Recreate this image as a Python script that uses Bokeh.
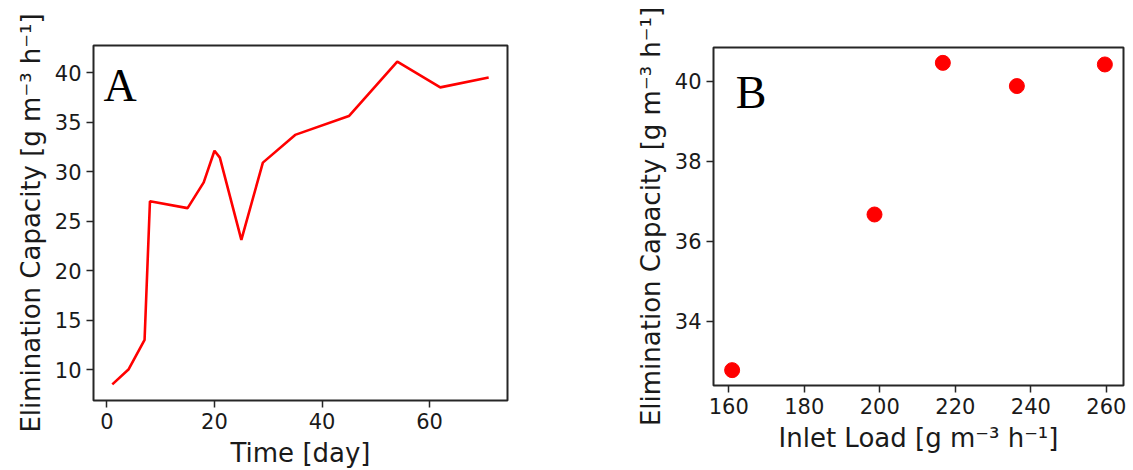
from bokeh.plotting import figure
from bokeh.layouts import row, column
from bokeh.models import Range1d, FixedTicker, Label
from bokeh.embed import file_html
from bokeh.resources import INLINE

# ---- data ----
days = [1, 4, 7, 8, 15, 18, 20, 21, 25, 29, 35, 45, 54, 62, 71]
ec_time = [8.5, 10.0, 13.0, 27.0, 26.3, 28.9, 32.1, 31.4, 23.1, 30.9, 33.7, 35.6, 41.1, 38.5, 39.5]

inlet_load = [160.9, 198.6, 216.7, 236.3, 259.6]
ec_load = [32.78, 36.67, 40.46, 39.88, 40.42]

x_ticks_a = [0, 20, 40, 60]
y_ticks_a = [10, 15, 20, 25, 30, 35, 40]
x_ticks_b = [160, 180, 200, 220, 240, 260]
y_ticks_b = [34, 36, 38, 40]

y_label = "Elimination Capacity [g m\u207b\u00b3 h\u207b\u00b9]"
x_label_a = "Time [day]"
x_label_b = "Inlet Load [g m\u207b\u00b3 h\u207b\u00b9]"
panel_a = "A"
panel_b = "B"

SPINE = "#262626"
TEXT = "#1a1a1a"


def padded(vals, frac=0.05):
    lo, hi = min(vals), max(vals)
    d = (hi - lo) * frac
    return Range1d(lo - d, hi + d)


def style(p, xt, yt, xlab, ylab):
    p.grid.visible = False
    p.outline_line_color = SPINE
    p.outline_line_width = 2
    p.outline_line_alpha = 1
    p.background_fill_color = "white"
    p.border_fill_color = "white"
    p.xaxis.ticker = FixedTicker(ticks=xt)
    p.yaxis.ticker = FixedTicker(ticks=yt)
    p.xaxis.axis_label = xlab
    p.yaxis.axis_label = ylab
    for ax in p.xaxis + p.yaxis:
        ax.axis_line_color = None
        ax.major_tick_out = 7
        ax.major_tick_in = 0
        ax.minor_tick_out = 0
        ax.minor_tick_in = 0
        ax.major_tick_line_color = SPINE
        ax.major_tick_line_width = 1.5
        ax.major_label_text_font = "DejaVu Sans"
        ax.major_label_text_font_size = "21px"
        ax.major_label_text_color = TEXT
        ax.major_label_standoff = 5
        ax.axis_label_text_font = "DejaVu Sans"
        ax.axis_label_text_font_size = "26px"
        ax.axis_label_text_font_style = "normal"
        ax.axis_label_text_color = TEXT
        ax.axis_label_standoff = 6


def panel_label(p, text, fx, fy):
    xr, yr = p.x_range, p.y_range
    p.add_layout(Label(
        x=xr.start + fx * (xr.end - xr.start),
        y=yr.start + fy * (yr.end - yr.start),
        text=text,
        text_font="Liberation Serif",
        text_font_size="46px",
        text_color="black",
        text_baseline="alphabetic",
        text_align="left",
    ))


# ---- panel A ----
p1 = figure(width=620, height=470, output_backend="svg", toolbar_location=None,
            x_range=padded(days), y_range=padded(ec_time),
            min_border_left=93, min_border_right=113, min_border_top=45, min_border_bottom=70)
p1.line(days, ec_time, line_width=2.6, line_color="red")
style(p1, x_ticks_a, y_ticks_a, x_label_a, y_label)
panel_label(p1, panel_a, 0.024, 0.887)

# ---- panel B ----
p2 = figure(width=513, height=470, output_backend="svg", toolbar_location=None,
            x_range=padded(inlet_load), y_range=padded(ec_load),
            min_border_left=93, min_border_right=10, min_border_top=47, min_border_bottom=85)
p2.scatter(inlet_load, ec_load, size=15, fill_color="red", line_color="red")
style(p2, x_ticks_b, y_ticks_b, x_label_b, y_label)
panel_label(p2, panel_b, 0.054, 0.867)

layout = row(column(p1), column(p2))
open("out.html", "w").write(file_html(layout, INLINE))
